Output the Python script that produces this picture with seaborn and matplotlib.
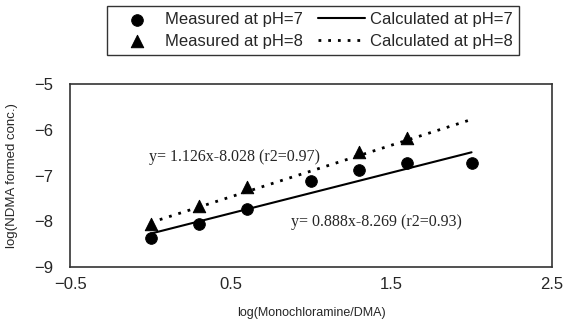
import numpy as np
import pandas as pd
import seaborn as sns
import matplotlib.pyplot as plt

# Measured data (log scale)
x_ph7 = [0.0, 0.3, 0.6, 1.0, 1.3, 1.6, 2.0]
y_ph7 = [-8.37, -8.06, -7.74, -7.13, -6.88, -6.73, -6.73]
x_ph8 = [0.0, 0.3, 0.6, 1.3, 1.6]
y_ph8 = [-8.06, -7.67, -7.24, -6.48, -6.19]

# Regression fits
fit_ph7 = (0.888, -8.269)
fit_ph8 = (1.126, -8.028)
fit_x = [0.0, 2.0]

x_ticks = [-0.5, 0.5, 1.5, 2.5]
y_ticks = [-9, -8, -7, -6, -5]

sns.set_theme(style="ticks")
plt.rcParams["font.family"] = ["Liberation Sans", "DejaVu Sans"]

fig, ax = plt.subplots(figsize=(5.76, 3.29), dpi=100)
fig.subplots_adjust(left=0.122, right=0.958, top=0.745, bottom=0.188)

# Fitted lines
line7 = pd.DataFrame({"x": fit_x, "y": [fit_ph7[0] * v + fit_ph7[1] for v in fit_x]})
line8 = pd.DataFrame({"x": fit_x, "y": [fit_ph8[0] * v + fit_ph8[1] for v in fit_x]})
sns.lineplot(data=line7, x="x", y="y", ax=ax, color="black", linewidth=1.5,
             label="Calculated at pH=7")
sns.lineplot(data=line8, x="x", y="y", ax=ax, color="black", linewidth=2,
             linestyle=(0, (1, 2.5)), label="Calculated at pH=8")

# Measured points
sns.scatterplot(x=x_ph7, y=y_ph7, ax=ax, color="black", marker="o", s=70,
                edgecolor="black", label="Measured at pH=7", zorder=3)
sns.scatterplot(x=x_ph8, y=y_ph8, ax=ax, color="black", marker="^", s=80,
                edgecolor="black", label="Measured at pH=8", zorder=3)

# Equations
ax.text(-0.01, -6.6, "y= 1.126x-8.028 (r2=0.97)", family="Liberation Serif",
        fontsize=11.5, va="center", ha="left")
ax.text(0.875, -8.01, "y= 0.888x-8.269 (r2=0.93)", family="Liberation Serif",
        fontsize=11.5, va="center", ha="left")

ax.set_xlim(-0.5, 2.5)
ax.set_ylim(-9, -5)
ax.set_xticks(x_ticks)
ax.set_yticks(y_ticks)
ax.set_xticklabels([str(v).replace("-", "\u2212") for v in x_ticks])
ax.tick_params(labelsize=12, length=0)
ax.tick_params(axis="y", pad=12)
ax.tick_params(axis="x", pad=7)
ax.set_xlabel("log(Monochloramine/DMA)", fontsize=9)
ax.set_ylabel("log(NDMA formed conc.)", fontsize=9.5)
ax.xaxis.set_label_coords(0.5, -0.215)
ax.yaxis.set_label_coords(-0.108, 0.5)

for spine in ax.spines.values():
    spine.set_visible(True)
    spine.set_color("#333333")
    spine.set_linewidth(1.2)

# Legend above the plot
handles, labels = ax.get_legend_handles_labels()
order = ["Measured at pH=7", "Measured at pH=8", "Calculated at pH=7", "Calculated at pH=8"]
hmap = dict(zip(labels, handles))
ax.get_legend().remove()
leg = fig.legend([hmap[k] for k in order], order, ncol=2, loc="upper left",
                 bbox_to_anchor=(107 / 576, 1 - 6 / 329), borderaxespad=0,
                 fontsize=12, frameon=True, fancybox=False, edgecolor="black",
                 handlelength=2.8, handletextpad=0.3, columnspacing=0.9,
                 borderpad=0.38, labelspacing=0.38)
leg.get_frame().set_linewidth(1.0)

fig.savefig("out.png", dpi=100)
